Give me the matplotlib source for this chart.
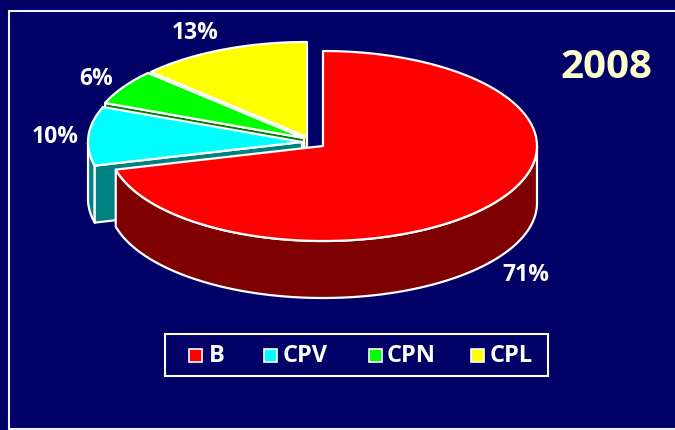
import numpy as np
import matplotlib
matplotlib.use("Agg")
import matplotlib.pyplot as plt
from matplotlib.patches import Polygon, Rectangle

categories = ["B", "CPV", "CPN", "CPL"]
values = [71, 10, 6, 13]
top_colors = ["#FF0000", "#00FFFF", "#00FF00", "#FFFF00"]
side_colors = ["#7F0000", "#008080", "#008000", "#808000"]
centres = [(323, 146), (302, 142), (304, 138), (307, 137)]
label_pos = [(526, 275), (55, 137), (96, 79), (195, 33)]
legend_marker_x = [189, 264, 369, 471]
legend_text_x = [209, 283, 387, 490]

BG = "#000066"
RX, RY, DEPTH = 214, 95, 57
plt.rcParams["font.family"] = ["Open Sans", "DejaVu Sans"]

fig = plt.figure(figsize=(6.75, 4.30), dpi=100, facecolor=BG)
ax = fig.add_axes([0, 0, 1, 1])
ax.set_xlim(0, 675)
ax.set_ylim(430, 0)
ax.axis("off")

# frame: top, left and bottom only
ax.plot([675, 9, 9, 675], [11, 11, 429, 429], color="#F0F0FF", lw=1.5,
        solid_joinstyle="miter", zorder=1)


def rim(c, t0, t1, n=120):
    t = np.radians(np.linspace(t0, t1, n))
    return np.column_stack([c[0] + RX * np.sin(t), c[1] - RY * np.cos(t)])


edges = np.concatenate([[0], np.cumsum(values)]) / sum(values) * 360
for i in [3, 2, 1, 0]:
    t0, t1 = edges[i], edges[i + 1]
    c = centres[i]
    z = 2 + (3 - i) * 3
    down = np.array([0, DEPTH])
    # outer wall: only the front half of the rim (90..270 deg) is visible
    a, b = max(t0, 90), min(t1, 270)
    if a < b:
        r = rim(c, a, b)
        ax.add_patch(Polygon(np.vstack([r, (r + down)[::-1]]), fc=side_colors[i],
                             ec="white", lw=1.6, joinstyle="round", zorder=z))
    # cut face at the end of the slice, seen for the slices left of the centre
    if i > 0:
        p = rim(c, t0, t0, 1)[0]
        ax.add_patch(Polygon([c, p, p + down, np.array(c) + down], fc=side_colors[i],
                             ec="white", lw=1.6, joinstyle="round", zorder=z))
    r = rim(c, t0, t1)
    ax.add_patch(Polygon(np.vstack([[c], r]), fc=top_colors[i], ec="white",
                         lw=1.6, joinstyle="round", zorder=z + 1))

for v, (x, y) in zip(values, label_pos):
    ax.text(x, y, f"{v}%", color="white", fontsize=16.5, fontweight="bold",
            ha="center", va="center", zorder=30)

ax.text(606, 68, "2008", color="#FFFFCC", fontsize=29, fontweight="bold",
        ha="center", va="center", zorder=30)

ax.add_patch(Rectangle((165, 334), 383, 42, fc=BG, ec="white", lw=1.5, zorder=20))
for name, col, mx, tx in zip(categories, top_colors, legend_marker_x, legend_text_x):
    ax.add_patch(Rectangle((mx, 349), 13, 13, fc=col, ec="white", lw=1.2, zorder=21))
    ax.text(tx, 356, name, color="white", fontsize=17, fontweight="bold",
            ha="left", va="center", zorder=21)

fig.savefig("out.png", dpi=100, facecolor=BG)
